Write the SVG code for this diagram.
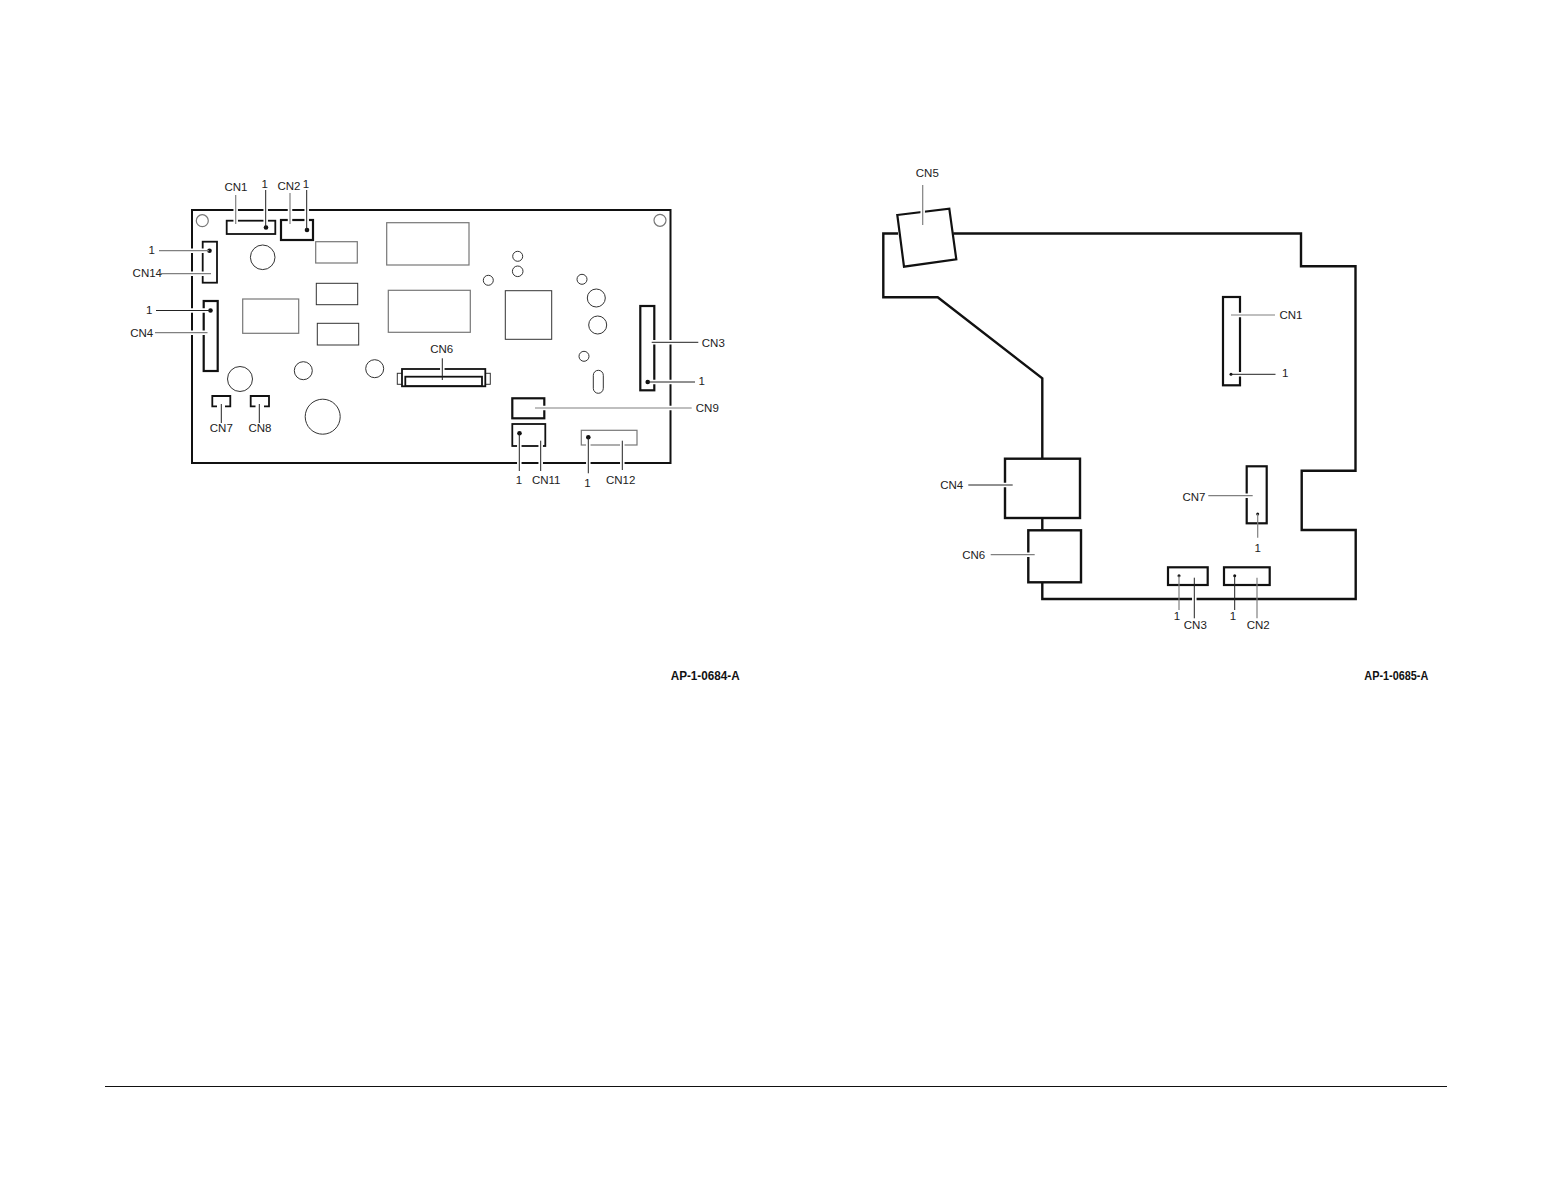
<svg xmlns="http://www.w3.org/2000/svg" width="1552" height="1200" viewBox="0 0 1552 1200">
<style>
text{font-family:"Liberation Sans",Arial,sans-serif;font-size:11.500px;fill:#222;text-anchor:middle}
.id{font-weight:bold;font-size:12px;fill:#111;text-anchor:start}
.board{fill:none;stroke:#111;stroke-width:2;stroke-linejoin:miter}
.pcb{fill:none;stroke:#111;stroke-width:2.400;stroke-linejoin:miter}
.c{fill:#fff;stroke:#111;stroke-width:1.800}
.o{fill:none;stroke:#111;stroke-width:1.800}
.cr{fill:none;stroke:#111;stroke-width:2.200}
.t{fill:none;stroke:#333;stroke-width:1}
.g{fill:none;stroke:#777;stroke-width:1.200}
.d{fill:#111}
.halo{fill:none;stroke:#fff;stroke-width:4.500}
.k{fill:none;stroke:#222;stroke-width:1}
.y{fill:none;stroke:#808080;stroke-width:1.200}
</style>
<rect width="1552" height="1200" fill="#fff"/>

<g id="board-left">
<rect class="board" x="192" y="210" width="478.500" height="253"/>
<circle class="g" cx="202.300" cy="220.700" r="6"/>
<circle class="g" cx="660" cy="220.300" r="6"/>
<circle class="t" cx="262.700" cy="257.300" r="12.300"/>
<circle class="t" cx="303.300" cy="370.700" r="9"/>
<circle class="t" cx="374.700" cy="368.700" r="9"/>
<circle class="t" cx="240" cy="379" r="12.500"/>
<circle class="t" cx="322.700" cy="416.700" r="17.500"/>
<circle class="t" cx="517.700" cy="256.300" r="5"/>
<circle class="t" cx="517.700" cy="271.300" r="5.300"/>
<circle class="t" cx="488.300" cy="280.300" r="5"/>
<circle class="t" cx="582" cy="279.300" r="5"/>
<circle class="t" cx="596.300" cy="298" r="9"/>
<circle class="t" cx="597.700" cy="325" r="9"/>
<circle class="t" cx="584" cy="356.300" r="5"/>
<rect class="g" x="315.700" y="241.700" width="41.600" height="21.300"/>
<rect class="g" x="386.700" y="222.700" width="82.300" height="42.300"/>
<rect class="t" x="316.300" y="283.300" width="41.400" height="21.400"/>
<rect class="g" x="388.300" y="290.300" width="82" height="42"/>
<rect class="g" x="242.700" y="299" width="56" height="34.300"/>
<rect class="t" x="317.300" y="323.300" width="41.400" height="21.700"/>
<rect class="t" x="505.300" y="290.700" width="46.400" height="48.600"/>
<rect class="t" x="593.300" y="370.300" width="10" height="23" rx="5"/>
</g>

<g id="node-l-cn1"><rect class="c" x="226.700" y="220.700" width="48.600" height="13.300"/><circle class="d" cx="266" cy="227.500" r="2.300"/><text x="236" y="190.500">CN1</text><text x="264.700" y="188">1</text></g>
<g id="node-l-cn2"><rect class="cr" x="281" y="220" width="32" height="20"/><circle class="d" cx="307" cy="230" r="2.300"/><text x="289" y="190">CN2</text><text x="306" y="188">1</text></g>
<g id="node-l-cn14"><rect class="c" x="202.700" y="241.700" width="14.300" height="41"/><circle class="d" cx="209.500" cy="250.700" r="2.300"/><text x="151.700" y="254">1</text><text x="147.300" y="276.500">CN14</text></g>
<g id="node-l-cn4"><rect class="cr" x="203.700" y="301" width="14" height="70"/><circle class="d" cx="210.500" cy="310.500" r="2.300"/><text x="149.300" y="314">1</text><text x="141.700" y="336.700">CN4</text></g>
<g id="node-l-cn7"><path class="o" d="M217 406.300H212.300V396H230.300V406.300H225"/><text x="221.300" y="432.300">CN7</text></g>
<g id="node-l-cn8"><path class="o" d="M255.500 406.300H250.700V396H269V406.300H264"/><text x="260" y="432.300">CN8</text></g>
<g id="node-l-cn6"><rect class="t" x="397.300" y="373.300" width="93" height="11"/><rect class="c" x="402" y="369" width="83.300" height="17.300"/><rect class="c" x="405.300" y="376.700" width="76.700" height="9.300"/><text x="441.700" y="352.700">CN6</text></g>
<g id="node-l-cn3"><rect class="cr" x="640.300" y="306" width="14" height="84.300"/><circle class="d" cx="647.700" cy="382" r="2.300"/><text x="713.300" y="346.700">CN3</text><text x="701.700" y="385.300">1</text></g>
<g id="node-l-cn9"><rect class="cr" x="512.300" y="398.300" width="32" height="20"/><text x="707.300" y="412.300">CN9</text></g>
<g id="node-l-cn11"><rect class="o" x="512.300" y="424" width="33" height="22"/><circle class="d" cx="519.500" cy="433.300" r="2.300"/><text x="519" y="484">1</text><text x="546.200" y="484">CN11</text></g>
<g id="node-l-cn12"><rect class="g" x="581.300" y="430.300" width="55.700" height="14.700"/><circle class="d" cx="588.300" cy="437.300" r="2.300"/><text x="587.500" y="487.300">1</text><text x="620.700" y="484">CN12</text></g>

<g id="board-right">
<path class="pcb" d="M953.300 233.500H1301V266.300H1355.500V470.700H1301.700V530H1355.700V599H1042.300V582M1042.300 530.300V518M1042.300 459V378.300L937.700 297.300H883.300V233.500H898"/>
</g>

<g id="node-r-cn5"><polygon class="cr" points="897.300,215 949.300,208.700 956.300,259.300 904,266.700"/><text x="927.300" y="177.300">CN5</text></g>
<g id="node-r-cn1"><rect class="cr" x="1223" y="297" width="17" height="88.300"/><circle class="d" cx="1231" cy="374.300" r="1.500"/><text x="1291" y="319">CN1</text><text x="1285.300" y="376.700">1</text></g>
<g id="node-r-cn7"><rect class="cr" x="1246.700" y="466.300" width="20" height="57"/><circle class="d" cx="1257.700" cy="514" r="1.500"/><text x="1194" y="501">CN7</text><text x="1257.700" y="551.700">1</text></g>
<g id="node-r-cn4"><rect class="pcb" x="1005" y="458.700" width="75" height="59.300"/><text x="951.700" y="489">CN4</text></g>
<g id="node-r-cn6"><rect class="pcb" x="1028.300" y="530.300" width="52.700" height="52"/><text x="973.700" y="559">CN6</text></g>
<g id="node-r-cn3"><rect class="cr" x="1168" y="567.300" width="39.700" height="17.700"/><circle class="d" cx="1179" cy="575.700" r="1.500"/><text x="1177" y="620">1</text><text x="1195.300" y="629">CN3</text></g>
<g id="node-r-cn2"><rect class="cr" x="1224" y="567.300" width="45.700" height="17.700"/><circle class="d" cx="1234.700" cy="575.700" r="1.500"/><text x="1233" y="620">1</text><text x="1258.200" y="629">CN2</text></g>

<g id="connectors">
<path class="halo" d="M235.700 207V223M265.700 207V224.500M290 207V223M306.700 207V227M188 250.700H196M199 250.700H206M188 273.700H196M199 273.700H206M188 310.500H196M200 310.500H207M188 332.700H196M200 332.700H207M442.300 366V372M651 342.300H658M666 342.300H675M651 382H658M666 382H675M541 408H548M666 408H675M519.300 443V449M519.300 460V466M540.700 443V449M540.700 460V466M588.300 443V448M588.300 460V466M622.300 443V448M622.300 460V466M922.700 205V216M1236 315H1244M1236 374.300H1244M1243 495.700H1250M1001 485H1009M1024 554.700H1032M1194.300 595V603"/>
<path class="y" d="M235.700 195V224"/>
<path class="k" d="M265.700 190V227.500"/>
<path class="y" d="M290 193V224"/>
<path class="k" d="M306.700 190V230"/>
<path class="y" d="M159 250.700H209"/>
<path class="y" d="M160 273.700H211"/>
<path class="k" d="M156 310.500H210"/>
<path class="y" d="M155 332.700H207.500"/>
<path class="k" d="M221.300 404V423"/>
<path class="k" d="M259.300 404V423"/>
<path class="k" d="M442.300 358.300V380"/>
<path class="k" d="M651.700 342.300H698.300"/>
<path class="k" d="M647.700 382H695"/>
<path class="y" d="M535 408H691.700"/>
<path class="k" d="M519.300 433.300V471"/>
<path class="k" d="M540.700 440.700V471"/>
<path class="k" d="M588.300 437.300V473.300"/>
<path class="k" d="M622.300 440.700V470"/>
<path class="y" d="M922.700 185V225"/>
<path class="y" d="M1231 315H1275"/>
<path class="k" d="M1231 374.300H1275.500"/>
<path class="y" d="M1208.300 495.700H1252.700"/>
<path class="y" d="M1257.700 514V537.700"/>
<path class="k" d="M968.300 485H1012.700"/>
<path class="y" d="M990.700 554.700H1034.700"/>
<path class="y" d="M1179 575.700V610"/>
<path class="k" d="M1194.300 577.700V618.300"/>
<path class="k" d="M1234.700 575.700V610"/>
<path class="y" d="M1257 577.700V618.300"/>
</g>

<text class="id" x="670.700" y="679.500" textLength="69" lengthAdjust="spacingAndGlyphs">AP-1-0684-A</text>
<text class="id" x="1364.300" y="679.500" textLength="64" lengthAdjust="spacingAndGlyphs">AP-1-0685-A</text>
<path d="M105 1086.500H1447" stroke="#111" stroke-width="1" fill="none"/>
</svg>
